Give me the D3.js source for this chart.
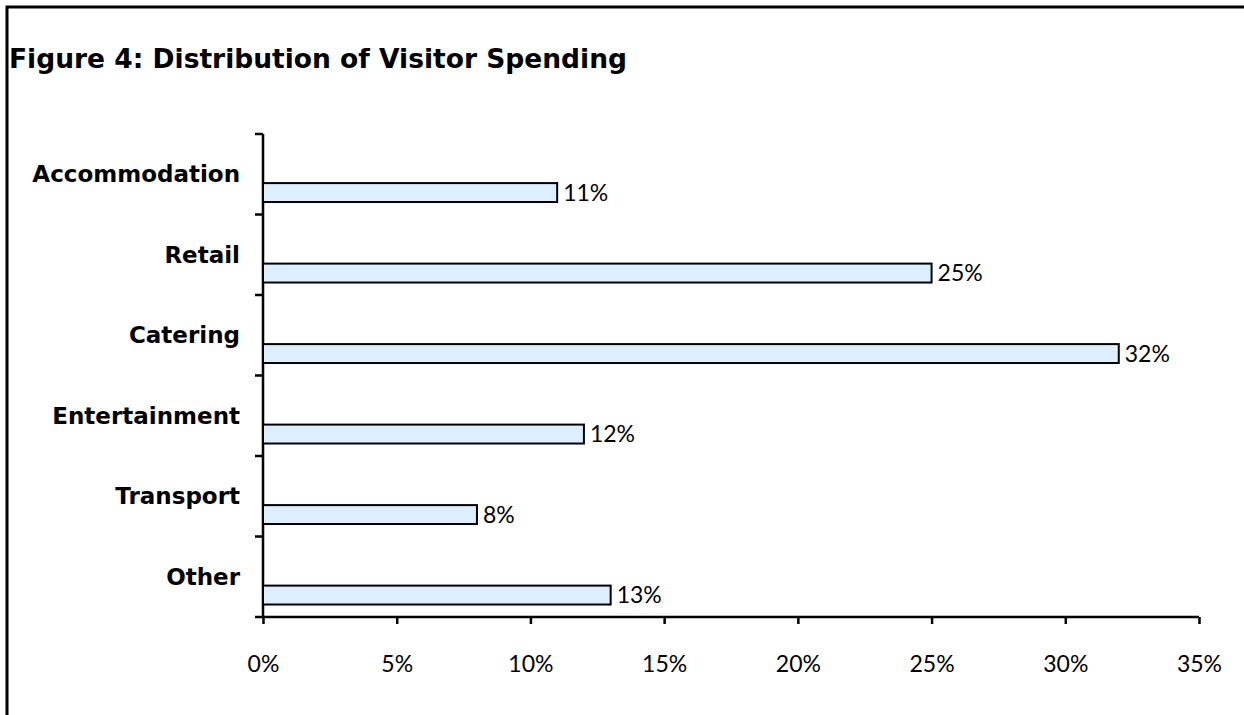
<!DOCTYPE html>
<html>
<head>
<meta charset="utf-8">
<script src="https://cdn.jsdelivr.net/npm/d3@7"></script>
<style>
  body { margin: 0; background: #fff; }
  svg { display: block; }
  text { font-family: Lato, "Open Sans", sans-serif; fill: #000; }
  .bold { font-family: "DejaVu Sans", sans-serif; font-weight: bold; }
</style>
</head>
<body>
<div id="container"></div>
<script>
/* ---------- DATA ---------- */
const categories = ["Accommodation", "Retail", "Catering", "Entertainment", "Transport", "Other"];
const shares = [0.11, 0.25, 0.32, 0.12, 0.08, 0.13];
const xTicks = [0, 0.05, 0.10, 0.15, 0.20, 0.25, 0.30, 0.35];
const title = "Figure 4: Distribution of Visitor Spending";

/* ---------- CONSTANTS ---------- */
const width = 1244,
  height = 715,
  margin = { top: 134, bottom: 98, left: 263, right: 45 };

const data = categories.map((c, i) => ({ category: c, value: shares[i] }));

const svg = d3.select("#container")
  .append("svg")
  .attr("width", width)
  .attr("height", height);

// outer frame (runs off the right and bottom edge)
svg.append("rect")
  .attr("x", 7)
  .attr("y", 7)
  .attr("width", width)
  .attr("height", height)
  .attr("fill", "none")
  .attr("stroke", "#000")
  .attr("stroke-width", 3);

svg.append("text")
  .attr("class", "bold")
  .attr("x", 9)
  .attr("y", 68)
  .attr("font-size", 26.5)
  .text(title);

// + SCALES
const xScale = d3.scaleLinear()
  .domain([0, 0.35])
  .range([margin.left, width - margin.right]);

const yScale = d3.scaleBand()
  .domain(categories)
  .range([margin.top, height - margin.bottom])
  .padding(0);

const bw = yScale.bandwidth();

// + AXES
const xAxis = d3.axisBottom(xScale)
  .tickValues(xTicks)
  .tickFormat(d3.format(".0%"))
  .tickSizeOuter(0)
  .tickSize(7)
  .tickPadding(32);

const gx = svg.append("g")
  .attr("transform", `translate(0,${height - margin.bottom})`)
  .call(xAxis);
gx.select(".domain").attr("stroke-width", 2.5).attr("d", `M${margin.left - 8},0H${width - margin.right}`);
gx.selectAll(".tick line").attr("stroke-width", 2.5);
gx.selectAll(".tick text").attr("font-size", 23).attr("font-family", "Lato, sans-serif");

// y axis: line plus ticks at band boundaries
const gy = svg.append("g");
gy.append("line")
  .attr("x1", margin.left).attr("x2", margin.left)
  .attr("y1", margin.top).attr("y2", height - margin.bottom)
  .attr("stroke", "#000").attr("stroke-width", 2.5);
gy.selectAll("line.sep")
  .data(categories)
  .join("line")
  .attr("class", "sep")
  .attr("x1", margin.left - 8).attr("x2", margin.left)
  .attr("y1", d => yScale(d))
  .attr("y2", d => yScale(d))
  .attr("stroke", "#000").attr("stroke-width", 2.5);

// category labels
svg.selectAll("text.cat")
  .data(data)
  .join("text")
  .attr("class", "cat bold")
  .attr("x", 240)
  .attr("y", d => yScale(d.category) + bw * 0.6)
  .attr("text-anchor", "end")
  .attr("font-size", 23)
  .text(d => d.category);

// + BARS
svg.selectAll("rect.bar")
  .data(data)
  .join("rect")
  .attr("class", "bar")
  .attr("x", xScale(0))
  .attr("y", d => yScale(d.category) + bw * 0.61)
  .attr("width", d => xScale(d.value) - xScale(0))
  .attr("height", bw * 0.235)
  .attr("fill", "#ddeeff")
  .attr("stroke", "#000")
  .attr("stroke-width", 2);

// value labels
svg.selectAll("text.val")
  .data(data)
  .join("text")
  .attr("class", "val")
  .attr("x", d => xScale(d.value) + 6)
  .attr("y", d => yScale(d.category) + bw * (0.61 + 0.235 / 2))
  .attr("dy", "0.35em")
  .attr("font-size", 23)
  .text(d => d3.format(".0%")(d.value));
</script>
</body>
</html>
